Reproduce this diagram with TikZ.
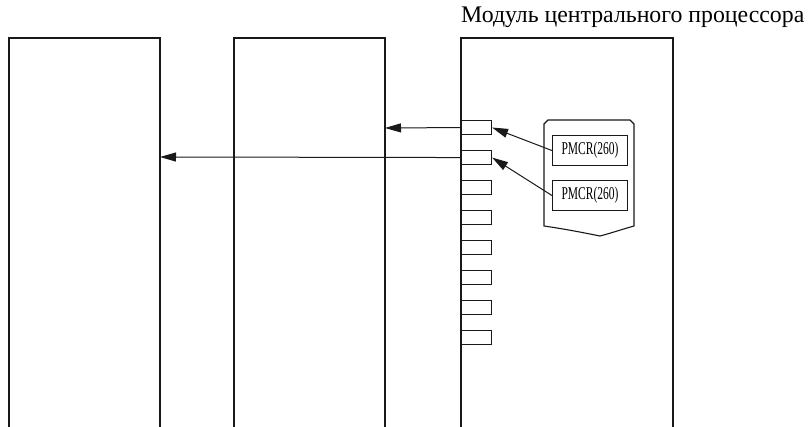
\documentclass[tikz,border=0pt]{standalone}
\usepackage{fontspec}
\setmainfont{Liberation Serif}
\usetikzlibrary{arrows.meta}
\begin{document}
\begin{tikzpicture}[x=1pt,y=-1pt,
  frame/.style={line width=1.1pt,draw=black!90},
  port/.style={draw=black!90,line width=1.1pt,minimum width=30pt,minimum height=14pt,inner sep=0pt,anchor=north west},
  pmcr/.style={draw=black!90,line width=1.1pt,minimum width=75pt,minimum height=30pt,inner sep=0pt,anchor=north west,font=\fontsize{18}{18}\selectfont},
  link/.style={line width=1pt,draw=black!90,-{Triangle[length=16pt,width=9pt]}}]
\useasboundingbox (0,0) rectangle (809,427);
% columns (open at the bottom)
\draw[frame] (9,427) -- (9,38) -- (160,38) -- (160,427);
\draw[frame] (234,427) -- (234,38) -- (385,38) -- (385,427);
\draw[frame] (461,427) -- (461,38) -- (673,38) -- (673,427);
\coordinate (c1r) at (160,157);
\coordinate (c2r) at (385,128);
% title
\node[anchor=base west,inner sep=0pt,font=\fontsize{23.8}{23.8}\selectfont] (title) at (461,22.5) {Модуль центрального процессора};
% ports
\foreach \i in {1,...,8}{
  \node[port] (p\i) at (461,{120+30*(\i-1)}) {};
}
% document shape
\draw[frame] (544,226) -- (544,124) -- (548,120) -- (630,120) -- (634,124) -- (634,226)
  .. controls (620,230) and (608,234) .. (600,236)
  .. controls (585,233) and (565,229) .. (544,226) -- cycle;
\node[pmcr] (m1) at (552,135) {\scalebox{0.64}[1]{PMCR(260)}};
\node[pmcr] (m2) at (552,180) {\scalebox{0.64}[1]{PMCR(260)}};
% connectors
\draw[link] (p1.west) -- (c2r);
\draw[link] (p2.west) -- (c1r);
\draw[link] (m1.west) -- (p1.east);
\draw[link] (m2.west) -- (p2.east);
\end{tikzpicture}
\end{document}
